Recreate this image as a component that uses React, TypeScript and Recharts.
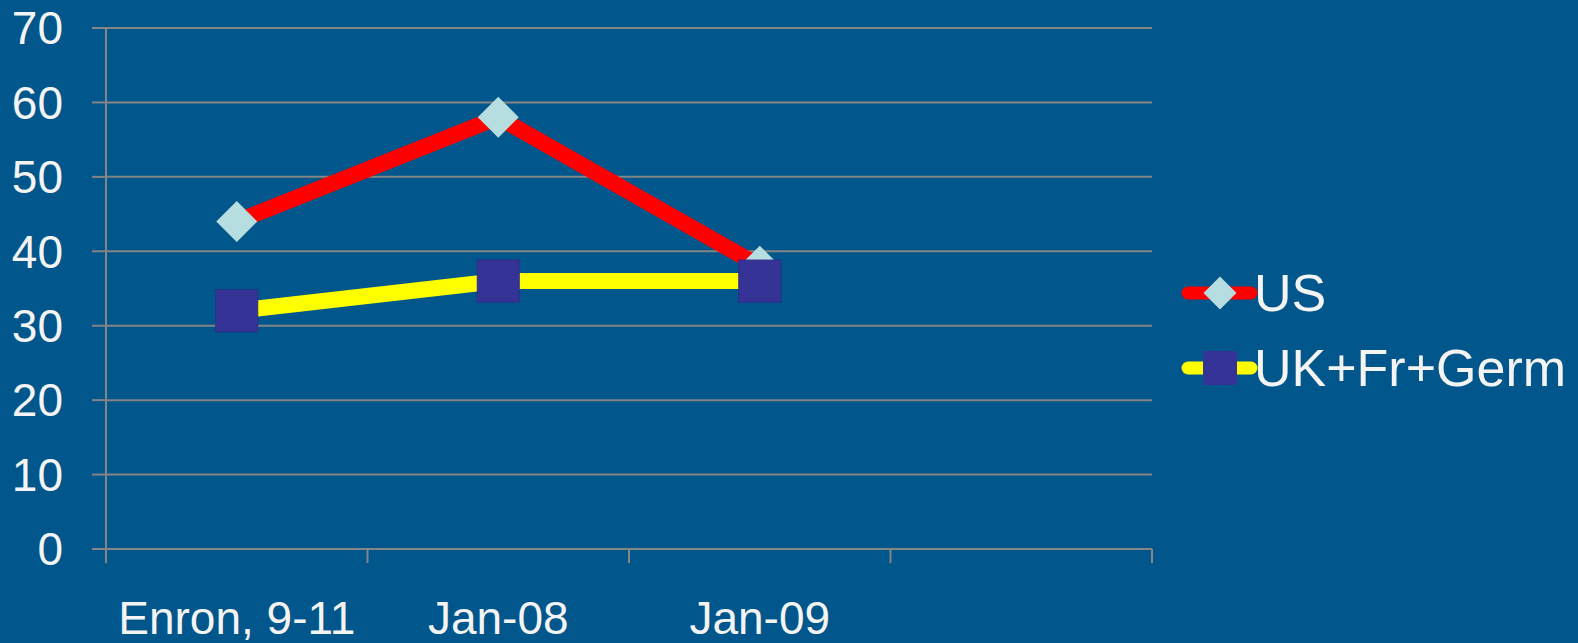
import React from "react";
import { LineChart, Line, XAxis, YAxis, CartesianGrid } from "recharts";

const categories = ["Enron, 9-11", "Jan-08", "Jan-09", ""];
const usValues = [44, 58, 38];
const ukValues = [32, 36, 36];
const yTicks = [0, 10, 20, 30, 40, 50, 60, 70];
const seriesNames = ["US", "UK+Fr+Germ"];

const BG = "#01568B";
const GRID = "#858585";
const TEXT = "#F4F4F4";
const RED = "#FF0000";
const YELLOW = "#FFFF00";
const DIAMOND = "#B6DDE0";
const SQUARE = "#363397";
const FONT = "'Liberation Sans', Arial, sans-serif";

const data = usValues.map((v, i) => ({ x: i + 0.5, us: v, uk: ukValues[i] }));
const xTicks: number[] = [];
for (let i = 0; i <= categories.length * 2; i++) xTicks.push(i / 2);

const Diamond = (props: any) => {
  const { cx, cy, index } = props;
  if (cx == null || cy == null) return <g key={"d" + index} />;
  const h = 20.5;
  return (
    <path
      key={"d" + index}
      d={`M${cx},${cy - h}L${cx + h},${cy}L${cx},${cy + h}L${cx - h},${cy}Z`}
      fill={DIAMOND}
    />
  );
};

const Square = (props: any) => {
  const { cx, cy, index } = props;
  if (cx == null || cy == null) return <g key={"s" + index} />;
  const h = 21;
  return (
    <rect
      key={"s" + index}
      x={cx - h}
      y={cy - h}
      width={2 * h}
      height={2 * h}
      fill={SQUARE}
      stroke="#2F2C88"
      strokeWidth={1}
    />
  );
};

const XTick = (props: any) => {
  const { x, y, payload } = props;
  const v = payload.value as number;
  if (Math.abs(v - Math.round(v)) < 1e-6) {
    return <line x1={x} x2={x} y1={y} y2={y + 14} stroke={GRID} strokeWidth={2} />;
  }
  const label = categories[Math.floor(v)] || "";
  return (
    <text x={x} y={y + 85} textAnchor="middle" fill={TEXT} fontSize={46} fontFamily={FONT}>
      {label}
    </text>
  );
};

export default function App() {
  const fs = 52;
  const rows = [
    { name: seriesNames[0], y: 293, color: RED, marker: "diamond" },
    { name: seriesNames[1], y: 368, color: YELLOW, marker: "square" },
  ];
  return (
    <div
      style={{
        position: "absolute",
        left: 0,
        top: 0,
        width: 1578,
        height: 643,
        background: BG,
        overflow: "hidden",
        fontFamily: FONT,
      }}
    >
      <LineChart
        width={1578}
        height={643}
        data={data}
        margin={{ top: 28, right: 426, bottom: 0, left: 0 }}
        style={{ fontFamily: FONT }}
      >
        <CartesianGrid horizontal vertical={false} stroke={GRID} strokeWidth={2} />
        <XAxis
          type="number"
          dataKey="x"
          domain={[0, categories.length]}
          ticks={xTicks}
          interval={0}
          allowDecimals
          height={94}
          tickSize={0}
          tickMargin={0}
          tickLine={false}
          axisLine={{ stroke: GRID, strokeWidth: 2 }}
          tick={<XTick />}
        />
        <YAxis
          type="number"
          domain={[0, 70]}
          ticks={yTicks}
          interval={0}
          width={106}
          tickSize={14}
          tickMargin={29}
          tickLine={{ stroke: GRID, strokeWidth: 2 }}
          axisLine={{ stroke: GRID, strokeWidth: 2 }}
          tick={{ fill: TEXT, fontSize: 46, fontFamily: FONT }}
        />
        <Line
          dataKey="us"
          name={seriesNames[0]}
          stroke={RED}
          strokeWidth={16}
          dot={Diamond}
          activeDot={false}
          isAnimationActive={false}
        />
        <Line
          dataKey="uk"
          name={seriesNames[1]}
          stroke={YELLOW}
          strokeWidth={16}
          dot={Square}
          activeDot={false}
          isAnimationActive={false}
        />
      </LineChart>
      <svg
        width={1578}
        height={643}
        style={{ position: "absolute", left: 0, top: 0, pointerEvents: "none" }}
      >
        {rows.map((r) => (
          <g key={r.name}>
            <line x1={1188} x2={1251} y1={r.y} y2={r.y} stroke={r.color} strokeWidth={13} strokeLinecap="round" />
            {r.marker === "diamond" ? (
              <path d={`M1220,${r.y - 16.5}L1236.5,${r.y}L1220,${r.y + 16.5}L1203.5,${r.y}Z`} fill={DIAMOND} />
            ) : (
              <rect x={1203} y={r.y - 17} width={34} height={34} fill={SQUARE} />
            )}
            <text x={1254} y={r.y + fs * 0.355} fill={TEXT} fontSize={fs} fontFamily={FONT}>
              {r.name}
            </text>
          </g>
        ))}
      </svg>
    </div>
  );
}
